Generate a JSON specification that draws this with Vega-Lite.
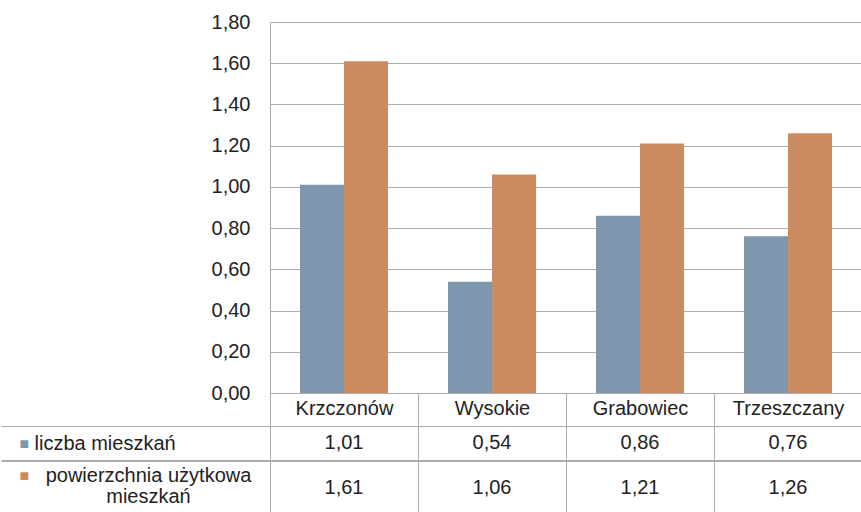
{
  "$schema": "https://vega.github.io/schema/vega-lite/v6.json",
  "padding": {"left": 0, "top": 12, "right": 0, "bottom": 0},
  "spacing": -2,
  "config": {
    "font": "Liberation Sans",
    "locale": {"number": {"decimal": ",", "thousands": " ", "grouping": [3], "currency": ["", ""]}},
    "view": {"stroke": null}
  },
  "resolve": {"scale": {"x": "independent", "y": "independent"}, "axis": {"x": "independent", "y": "independent"}},
  "datasets": {
    "d": [
      {"gmina": "Krzczonów", "series": "liczba mieszkań", "value": 1.01},
      {"gmina": "Wysokie", "series": "liczba mieszkań", "value": 0.54},
      {"gmina": "Grabowiec", "series": "liczba mieszkań", "value": 0.86},
      {"gmina": "Trzeszczany", "series": "liczba mieszkań", "value": 0.76},
      {"gmina": "Krzczonów", "series": "powierzchnia użytkowa mieszkań", "value": 1.61},
      {"gmina": "Wysokie", "series": "powierzchnia użytkowa mieszkań", "value": 1.06},
      {"gmina": "Grabowiec", "series": "powierzchnia użytkowa mieszkań", "value": 1.21},
      {"gmina": "Trzeszczany", "series": "powierzchnia użytkowa mieszkań", "value": 1.26}
    ]
  },
  "vconcat": [
    {
      "width": 592,
      "height": 371,
      "data": {"name": "d"},
      "mark": {"type": "bar"},
      "encoding": {
        "x": {
          "field": "gmina", "type": "nominal",
          "sort": ["Krzczonów", "Wysokie", "Grabowiec", "Trzeszczany"],
          "scale": {"paddingInner": 0, "paddingOuter": 0},
          "axis": {
            "title": null, "orient": "bottom", "labelAngle": 0, "labelFontSize": 20, "labelColor": "#222",
            "labelBaseline": "top", "labelPadding": -27, "tickSize": 32, "tickColor": "#ababab",
            "tickBand": "extent", "domainColor": "#ababab", "grid": false
          }
        },
        "xOffset": {
          "field": "series", "type": "nominal",
          "sort": ["liczba mieszkań", "powierzchnia użytkowa mieszkań"],
          "scale": {"paddingInner": 0, "paddingOuter": 0.682}
        },
        "y": {
          "field": "value", "type": "quantitative",
          "scale": {"domain": [0, 1.8]},
          "axis": {
            "title": null, "values": [0, 0.2, 0.4, 0.6, 0.8, 1.0, 1.2, 1.4, 1.6, 1.8], "format": ".2f",
            "labelFontSize": 20, "labelColor": "#222", "ticks": false, "labelPadding": 20,
            "gridColor": "#ababab", "domainColor": "#ababab"
          }
        },
        "color": {
          "field": "series", "type": "nominal",
          "scale": {"domain": ["liczba mieszkań", "powierzchnia użytkowa mieszkań"], "range": ["#7F96AF", "#CC8B5F"]},
          "legend": null
        }
      }
    },
    {
      "width": 592,
      "height": 34,
      "data": {"name": "d"},
      "transform": [{"filter": "datum.series == 'liczba mieszkań'"}],
      "view": {"stroke": "#ababab"},
      "mark": {"type": "text", "fontSize": 20, "color": "#222"},
      "encoding": {
        "x": {
          "field": "gmina", "type": "nominal",
          "sort": ["Krzczonów", "Wysokie", "Grabowiec", "Trzeszczany"],
          "scale": {"paddingInner": 0, "paddingOuter": 0},
          "axis": {"title": null, "labels": false, "ticks": false, "domain": false, "grid": true, "gridColor": "#ababab", "tickBand": "extent"}
        },
        "y": {
          "field": "series", "type": "nominal",
          "scale": {"paddingInner": 0, "paddingOuter": 0},
          "axis": {
            "title": "liczba mieszkań", "titleAngle": 0, "titleAlign": "left", "titleBaseline": "middle",
            "titleX": -236, "titleY": 17, "titleFontSize": 20, "titleFontWeight": "normal", "titleColor": "#222",
            "labelExpr": "datum.label && !datum.extra ? '■' : ''",
            "labelFontSize": {"condition": {"test": "datum.extra || !datum.label", "value": 0}, "value": 16},
            "labelBaseline": {"condition": {"test": "datum.extra || !datum.label", "value": "top"}, "value": "middle"},
            "labelColor": "#7F96AF", "labelAlign": "left",
            "labelPadding": -18, "tickSize": 269, "tickColor": "#ababab", "tickBand": "extent", "domain": false
          }
        },
        "text": {"field": "value", "type": "quantitative", "format": ".2f"}
      }
    },
    {
      "width": 592,
      "height": 53,
      "data": {"name": "d"},
      "transform": [{"filter": "datum.series == 'powierzchnia użytkowa mieszkań'"}],
      "view": {"stroke": "#ababab"},
      "mark": {"type": "text", "fontSize": 20, "color": "#222"},
      "encoding": {
        "x": {
          "field": "gmina", "type": "nominal",
          "sort": ["Krzczonów", "Wysokie", "Grabowiec", "Trzeszczany"],
          "scale": {"paddingInner": 0, "paddingOuter": 0},
          "axis": {"title": null, "labels": false, "ticks": false, "domain": false, "grid": true, "gridColor": "#ababab", "tickBand": "extent"}
        },
        "y": {
          "field": "series", "type": "nominal",
          "scale": {"paddingInner": 0, "paddingOuter": 0},
          "axis": {
            "title": ["powierzchnia użytkowa", "mieszkań"], "titleAngle": 0, "titleAlign": "center", "titleBaseline": "top",
            "titleX": -122, "titleY": 4, "titleLineHeight": 21, "titleFontSize": 20, "titleFontWeight": "normal", "titleColor": "#222",
            "labelExpr": "datum.label && !datum.extra ? '■' : ''",
            "labelFontSize": {"condition": {"test": "datum.extra || !datum.label", "value": 0}, "value": 16},
            "labelBaseline": {"condition": {"test": "datum.extra || !datum.label", "value": "top"}, "value": "middle"},
            "labelColor": "#CC8B5F", "labelAlign": "left", "labelOffset": -12,
            "labelPadding": -18, "tickSize": 269, "tickColor": "#ababab", "tickBand": "extent", "domain": false
          }
        },
        "text": {"field": "value", "type": "quantitative", "format": ".2f"}
      }
    }
  ]
}
